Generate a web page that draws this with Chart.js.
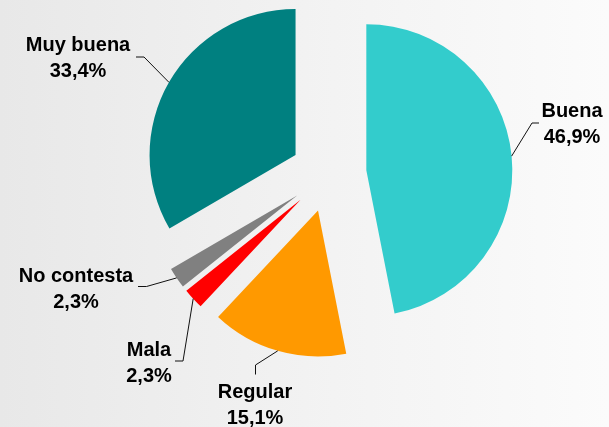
<!DOCTYPE html>
<html lang="es">
<head>
<meta charset="UTF-8">
<title>Valoración</title>
<script src="https://cdn.jsdelivr.net/npm/chart.js@4/dist/chart.umd.min.js"></script>
<style>
    html, body {
        margin: 0;
        padding: 0;
    }
    #contenedor {
        position: relative;
        width: 609px;
        height: 427px;
        background: linear-gradient(to right, #e8e8e8, #f3f3f3 55%, #fbfbfb);
    }
</style>
</head>
<body>
<div id="contenedor">
    <canvas id="grafico"></canvas>
</div>
<script>
// Datos del gráfico
const categorias = ['Buena', 'Regular', 'Mala', 'No contesta', 'Muy buena'];
const porcentajes = [46.9, 15.1, 2.3, 2.3, 33.4];
const colores = ['#33CCCC', '#FF9900', '#FF0000', '#808080', '#008080'];

// Separación de las porciones (px)
const SEPARACION = 38;

// Posición de cada etiqueta: centro del texto, primera línea base y línea guía
const etiquetas = {
    'Buena':       { x: 572, y: 117, codo: [532, 123], fin: [539, 123] },
    'Regular':     { x: 255, y: 398, codo: [255.5, 365], fin: [255.5, 374.5] },
    'Mala':        { x: 149, y: 356, codo: [183, 361], fin: [175, 361] },
    'No contesta': { x: 76,  y: 282, codo: [146.5, 286.5], fin: [138, 286.5] },
    'Muy buena':   { x: 78,  y: 51,  codo: [144, 57], fin: [136, 57] }
};
const INTERLINEA = 25.5;

// Formato con coma decimal
function formatoPct(v) {
    return v.toFixed(1).replace('.', ',') + '%';
}

// Porciones separadas del centro
const separarPorciones = {
    id: 'separarPorciones',
    afterDatasetUpdate(chart, args) {
        args.meta.data.forEach(arc => {
            const medio = (arc.startAngle + arc.endAngle) / 2;
            arc.x += Math.cos(medio) * SEPARACION;
            arc.y += Math.sin(medio) * SEPARACION;
        });
    }
};

// Etiquetas con líneas guía
const etiquetasPlugin = {
    id: 'etiquetasPlugin',
    afterDatasetsDraw(chart) {
        const ctx = chart.ctx;
        const meta = chart.getDatasetMeta(0);
        ctx.save();
        meta.data.forEach((arc, i) => {
            const cat = categorias[i];
            const et = etiquetas[cat];
            const medio = (arc.startAngle + arc.endAngle) / 2;
            const px = arc.x + Math.cos(medio) * arc.outerRadius;
            const py = arc.y + Math.sin(medio) * arc.outerRadius;

            ctx.strokeStyle = '#111';
            ctx.lineWidth = 1;
            ctx.beginPath();
            ctx.moveTo(px, py);
            ctx.lineTo(et.codo[0], et.codo[1]);
            ctx.lineTo(et.fin[0], et.fin[1]);
            ctx.stroke();

            ctx.fillStyle = '#000';
            ctx.font = 'bold 20px "Liberation Sans", Arial, sans-serif';
            ctx.textAlign = 'center';
            ctx.textBaseline = 'alphabetic';
            ctx.fillText(cat, et.x, et.y);
            ctx.fillText(formatoPct(porcentajes[i]), et.x, et.y + INTERLINEA);
        });
        ctx.restore();
    }
};

const ctx = document.getElementById('grafico').getContext('2d');
const grafico = new Chart(ctx, {
    type: 'pie',
    data: {
        labels: categorias,
        datasets: [{
            data: porcentajes,
            backgroundColor: colores,
            borderWidth: 0,
            clip: false
        }]
    },
    options: {
        responsive: true,
        maintainAspectRatio: false,
        animation: false,
        radius: 146,
        layout: {
            padding: { left: 48, right: 0, top: 0, bottom: 79 }
        },
        plugins: {
            legend: { display: false },
            tooltip: { enabled: false }
        },
        events: []
    },
    plugins: [separarPorciones, etiquetasPlugin]
});
</script>
</body>
</html>
